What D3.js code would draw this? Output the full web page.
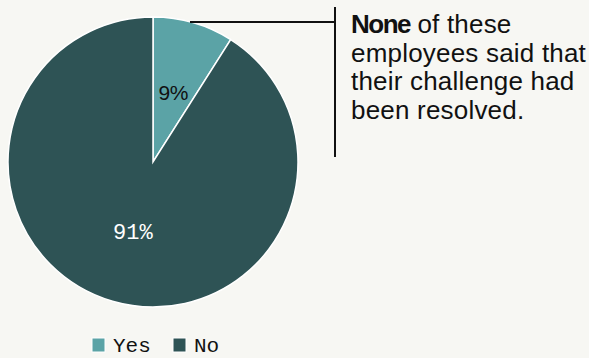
<!DOCTYPE html>
<html>
<head>
<meta charset="utf-8">
<script src="https://cdn.jsdelivr.net/npm/d3@7"></script>
<style>
  body { margin: 0; background: #f7f7f3; }
  svg { display: block; }
</style>
</head>
<body>
<div id="chart"></div>
<script>
var labels = ["Yes", "No"];
var values = [9, 91];
var colors = ["#5ba3a6", "#2e5355"];
var noteLines = [["None", " of these"], ["", "employees said that"], ["", "their challenge had"], ["", "been resolved."]];

var svg = d3.select("#chart").append("svg").attr("width", 589).attr("height", 358);
svg.append("rect").attr("width", 589).attr("height", 358).attr("fill", "#f7f7f3");

var cx = 153, cy = 162, r = 145;
var g = svg.append("g").attr("transform", "translate(" + cx + "," + cy + ")");

var pie = d3.pie().sort(null).value(function(d) { return d; });
var arc = d3.arc().innerRadius(0).outerRadius(r);
var labelArc = d3.arc().innerRadius(r * 0.5).outerRadius(r * 0.5);
var arcs = pie(values);

g.selectAll(".slice").data(arcs).enter()
  .append("path").attr("class", "slice")
  .attr("d", arc)
  .attr("fill", function(d, i) { return colors[i]; })
  .attr("stroke", "#ffffff")
  .attr("stroke-width", 1.5);

// slice labels
g.append("text")
  .attr("transform", "translate(" + labelArc.centroid(arcs[0]) + ")")
  .attr("text-anchor", "middle").attr("dy", "0.35em")
  .attr("font-family", "Liberation Sans, Arial, sans-serif")
  .attr("font-size", 21).attr("letter-spacing", -0.5).attr("fill", "#111")
  .text(values[0] + "%");

g.append("text")
  .attr("transform", "translate(" + labelArc.centroid(arcs[1]) + ")")
  .attr("text-anchor", "middle").attr("dy", "0.35em")
  .attr("font-family", "Liberation Mono, DejaVu Sans Mono, monospace")
  .attr("font-size", 22).attr("fill", "#ffffff")
  .text(values[1] + "%");

// annotation leader
svg.append("line").attr("x1", 190).attr("y1", 22).attr("x2", 335).attr("y2", 22)
  .attr("stroke", "#111").attr("stroke-width", 2);
svg.append("line").attr("x1", 335).attr("y1", 7).attr("x2", 335).attr("y2", 157)
  .attr("stroke", "#111").attr("stroke-width", 2);

var note = svg.append("text")
  .attr("font-family", "Liberation Sans, Arial, sans-serif")
  .attr("font-size", 26).attr("letter-spacing", 0.2).attr("fill", "#111");
noteLines.forEach(function(l, i) {
  var t = note.append("tspan").attr("x", 351).attr("y", 33 + i * 28.5);
  if (l[0]) t.append("tspan").attr("font-weight", "bold").attr("letter-spacing", -1.5).text(l[0]);
  t.append("tspan").text(l[1]);
});

// legend
var legend = svg.append("g").attr("transform", "translate(92,338)");
var lx = [0, 81];
legend.selectAll("rect").data(labels).enter()
  .append("rect")
  .attr("x", function(d, i) { return lx[i]; })
  .attr("y", 0).attr("width", 13).attr("height", 14)
  .attr("fill", function(d, i) { return colors[i]; })
  .attr("stroke", "#ffffff").attr("stroke-width", 1);
legend.selectAll("text").data(labels).enter()
  .append("text")
  .attr("x", function(d, i) { return lx[i] + 21; })
  .attr("y", 14)
  .attr("font-family", "Liberation Mono, DejaVu Sans Mono, monospace")
  .attr("font-size", 21).attr("fill", "#111")
  .text(function(d) { return d; });
</script>
</body>
</html>
